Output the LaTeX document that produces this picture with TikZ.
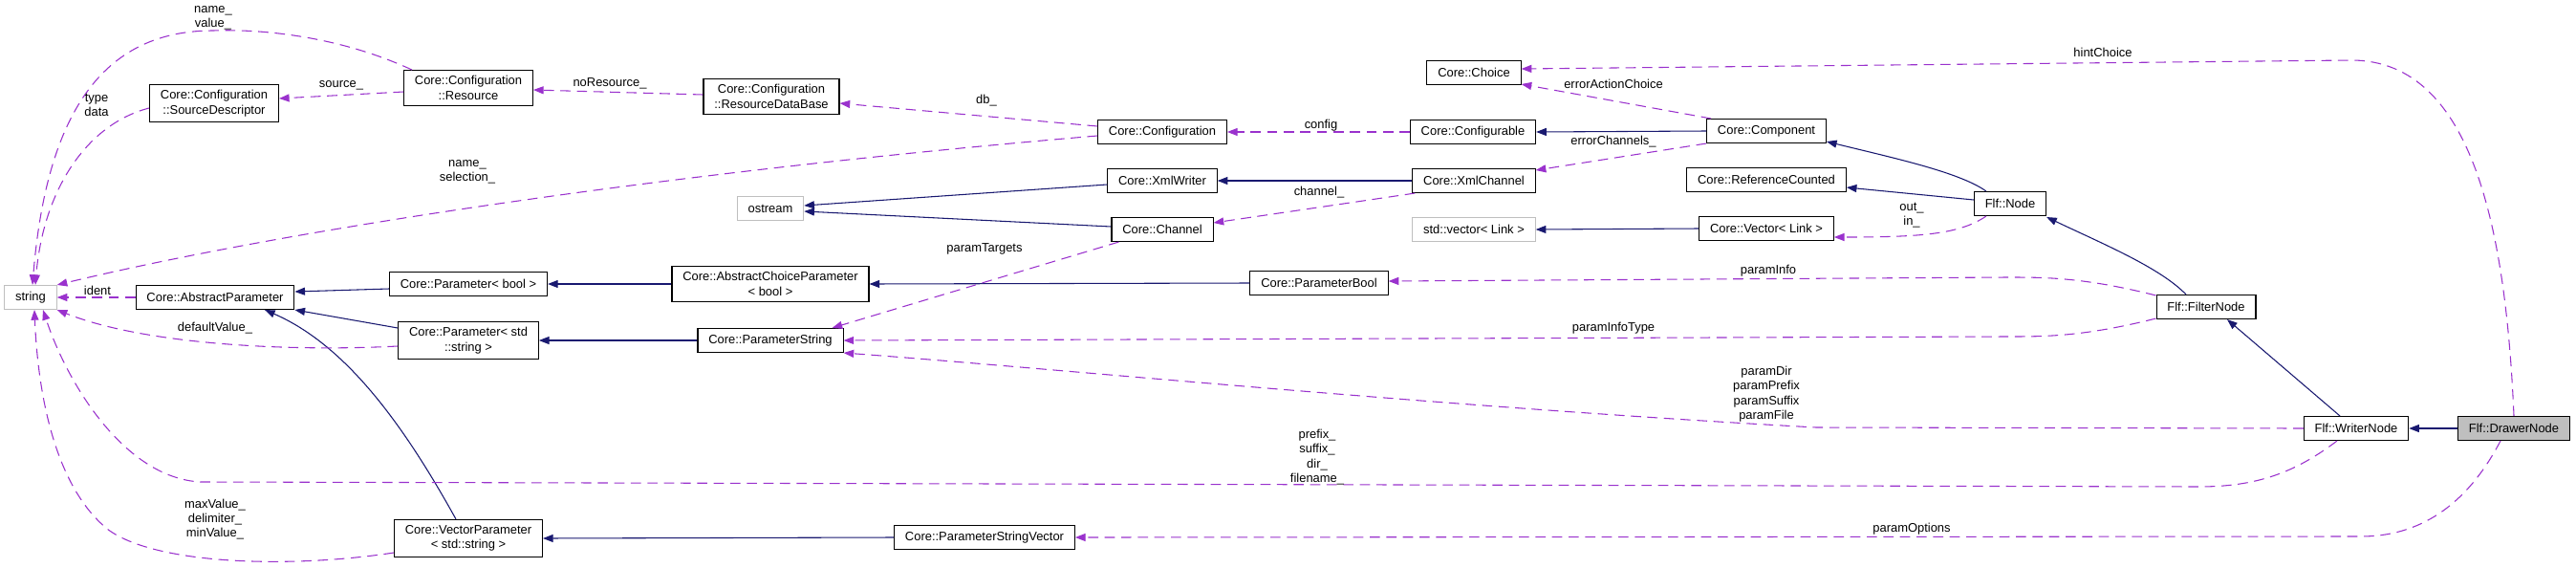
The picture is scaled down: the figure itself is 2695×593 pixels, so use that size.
\documentclass[tikz,border=0pt]{standalone}
\usepackage{fontspec}
\setmainfont{Liberation Sans}
\usetikzlibrary{arrows.meta,positioning,calc}
\definecolor{DxBlue}{HTML}{191970}
\definecolor{DxPurple}{HTML}{9A32CD}
\definecolor{DxGray}{HTML}{BFBFBF}

\begin{document}
\begin{tikzpicture}[
    x=0.75pt,y=-0.75pt,
    every node/.style={font=\fontsize{9.7}{11.5}\selectfont},
    cls/.style={draw=black, line width=0.8pt, fill=white, minimum height=18.75pt, inner xsep=8.5pt, inner ysep=4.5pt, align=center},
    ext/.style={cls, draw=DxGray},
    focus/.style={cls, fill=DxGray},
    inh/.style={draw=DxBlue, line width=0.8pt, -{Triangle[length=8pt,width=6pt]}},
    use/.style={draw=DxPurple, line width=0.8pt, dash pattern=on 8pt off 5pt, -{Triangle[length=8pt,width=6pt]}},
    lbl/.style={align=center, inner sep=0pt}
  ]
    \useasboundingbox (0,0) rectangle (2695,593);

    % classes
    \node[ext] (str) at (32,311) {string};
    \node[cls] (absparam) at (225,311) {Core::AbstractParameter};
    \node[cls] (parbool) at (490,297) {Core::Parameter< bool >};
    \node[cls] (parstdstr) at (490,356) {Core::Parameter< std\\::string >};
    \node[cls] (vecparam) at (490,563) {Core::VectorParameter\\< std::string >};
    \node[cls] (srcdesc) at (224,108) {Core::Configuration\\::SourceDescriptor};
    \node[cls] (resource) at (490,92) {Core::Configuration\\::Resource};
    \node[cls] (resdb) at (807,101) {Core::Configuration\\::ResourceDataBase};
    \node[ext] (ostream) at (806,218) {ostream};
    \node[cls] (abschoice) at (806,297) {Core::AbstractChoiceParameter\\< bool >};
    \node[cls] (parstring) at (806,356) {Core::ParameterString};
    \node[cls] (parstrvec) at (1030,562) {Core::ParameterStringVector};
    \node[cls] (config) at (1216,138) {Core::Configuration};
    \node[cls] (xmlwriter) at (1216,189) {Core::XmlWriter};
    \node[cls] (channel) at (1216,240) {Core::Channel};
    \node[cls] (parambool) at (1380,296) {Core::ParameterBool};
    \node[cls] (choice) at (1542,76) {Core::Choice};
    \node[cls] (configurable) at (1541,138) {Core::Configurable};
    \node[cls] (xmlchannel) at (1542,189) {Core::XmlChannel};
    \node[ext] (stdvector) at (1542,240) {std::vector< Link >};
    \node[cls] (component) at (1848,137) {Core::Component};
    \node[cls] (refcounted) at (1848,188) {Core::ReferenceCounted};
    \node[cls] (veclink) at (1848,239) {Core::Vector< Link >};
    \node[cls] (flfnode) at (2103,213) {Flf::Node};
    \node[cls] (filternode) at (2308,321) {Flf::FilterNode};
    \node[cls] (writernode) at (2465,448) {Flf::WriterNode};
    \node[focus] (drawernode) at (2630,448) {Flf::DrawerNode};

    % inheritance
    \draw[inh] (component.west) -- (configurable.east);
    \draw[inh] (xmlchannel.west) -- (xmlwriter.east);
    \draw[inh] ($(xmlwriter.west)+(0,4)$) -- ($(ostream.east)+(0,-3)$);
    \draw[inh] ($(channel.west)+(0,-3)$) -- ($(ostream.east)+(0,3)$);
    \draw[inh] (veclink.west) -- (stdvector.east);
    \draw[inh] ($(flfnode.north west)+(13,0)$) .. controls (2050,180) and (1980,165) .. ($(component.south east)+(0,-2)$);
    \draw[inh] ($(flfnode.west)+(0,-4)$) -- ($(refcounted.east)+(0,8)$);
    \draw[inh] (parambool.west) -- (abschoice.east);
    \draw[inh] (abschoice.west) -- (parbool.east);
    \draw[inh] ($(parbool.west)+(0,5)$) -- ($(absparam.east)+(0,-6)$);
    \draw[inh] ($(parstdstr.west)+(0,-13)$) -- (absparam.south east);
    \draw[inh] ($(vecparam.north)+(-13,0)$) .. controls (420,440) and (360,360) .. ($(absparam.south)+(52,0)$);
    \draw[inh] (parstring.west) -- (parstdstr.east);
    \draw[inh] ($(filternode.north)+(-21,0)$) .. controls (2260,280) and (2200,255) .. ($(flfnode.south east)+(0,1)$);
    \draw[inh] ($(writernode.north)+(-17,0)$) -- ($(filternode.south)+(22,0)$);
    \draw[inh] (drawernode.west) -- (writernode.east);
    \draw[inh] (parstrvec.west) -- (vecparam.east);

    % usage
    \draw[use] ($(resource.north)+(-59,0)$) .. controls (360,40) and (280,30) .. (223,32) .. controls (120,32) and (50,100) .. ($(str.north)+(2,0)$);
    \draw[use] ($(srcdesc.west)+(0,5)$) .. controls (90,130) and (45,200) .. ($(str.north)+(5,0)$);
    \draw[use] ($(resource.west)+(0,4)$) -- ($(srcdesc.east)+(0,-5)$);
    \draw[use] ($(resdb.west)+(0,-2)$) -- ($(resource.east)+(0,2)$);
    \draw[use] ($(config.west)+(0,-6)$) -- ($(resdb.east)+(0,7)$);
    \draw[use] ($(config.west)+(0,4)$) .. controls (700,180) and (300,240) .. (str.north east);
    \draw[use] (configurable.west) -- (config.east);
    \draw[use] ($(component.north west)+(5,0)$) -- ($(choice.south east)+(0,-1)$);
    \draw[use] (component.south west) -- ($(xmlchannel.east)+(0,-11)$);
    \draw[use] ($(xmlchannel.south west)+(3,0)$) -- ($(channel.east)+(0,-7)$);
    \draw[use] ($(flfnode.south west)+(13,0)$) .. controls (2050,245) and (2010,248) .. ($(veclink.east)+(0,9)$);
    \draw[use] ($(channel.south west)+(8,0)$) -- ($(parstring.north east)+(-12,0)$);
    \draw[use] (absparam.west) -- (str.east);
    \draw[use] ($(parstdstr.west)+(0,6)$) .. controls (300,368) and (150,360) .. (str.south east);
    \draw[use] ($(filternode.north west)+(0,1)$) .. controls (2180,290) and (2140,290) .. (2100,290) -- ($(parambool.east)+(0,-2)$);
    \draw[use] ($(filternode.south west)+(0,-1)$) .. controls (2180,352) and (2140,352) .. (2100,352) -- (parstring.east);
    \draw[use] (writernode.west) -- (1900,447) .. controls (1500,425) and (1100,385) .. (parstring.south east);
    \draw[use] ($(writernode.south)+(-20,0)$) .. controls (2400,495) and (2360,509) .. (2300,509) -- (210,504) .. controls (130,500) and (70,400) .. ($(str.south)+(13,0)$);
    \draw[use] (drawernode.north) .. controls (2622,250) and (2590,63) .. (2460,63) -- ($(choice.east)+(0,-4)$);
    \draw[use] ($(drawernode.south)+(-14,0)$) .. controls (2580,530) and (2530,561) .. (2470,561) -- (parstrvec.east);
    \draw[use] ($(vecparam.west)+(0,15)$) .. controls (300,595) and (160,590) .. (112,553) .. controls (60,510) and (40,420) .. ($(str.south)+(4,0)$);

    % member labels
    \node[lbl] (l-namevalue) at (223,19) {name\_\\value\_};
    \node[lbl] (l-typedata) at (101,110) {type\\data};
    \node[lbl] (l-source) at (357,89) {source\_};
    \node[lbl] (l-noresource) at (638,87) {noResource\_};
    \node[lbl] (l-db) at (1032,105) {db\_};
    \node[lbl] (l-nameselection) at (489,180) {name\_\\selection\_};
    \node[lbl] (l-config) at (1382,131) {config};
    \node[lbl] (l-erroraction) at (1688,88) {errorActionChoice};
    \node[lbl] (l-errorchannels) at (1688,148) {errorChannels\_};
    \node[lbl] (l-channel) at (1380,201) {channel\_};
    \node[lbl] (l-outin) at (2000,225) {out\_\\in\_};
    \node[lbl] (l-paramtargets) at (1030,260) {paramTargets};
    \node[lbl] (l-ident) at (102,304) {ident};
    \node[lbl] (l-default) at (225,343) {defaultValue\_};
    \node[lbl] (l-paraminfo) at (1850,283) {paramInfo};
    \node[lbl] (l-paraminfotype) at (1688,343) {paramInfoType};
    \node[lbl] (l-paramdir) at (1848,412) {paramDir\\paramPrefix\\paramSuffix\\paramFile};
    \node[lbl] (l-prefix) at (1378,478) {prefix\_\\suffix\_\\dir\_\\filename\_};
    \node[lbl] (l-hint) at (2200,55) {hintChoice};
    \node[lbl] (l-paramoptions) at (2000,553) {paramOptions};
    \node[lbl] (l-maxvalue) at (225,543) {maxValue\_\\delimiter\_\\minValue\_};
  \end{tikzpicture}
\end{document}
